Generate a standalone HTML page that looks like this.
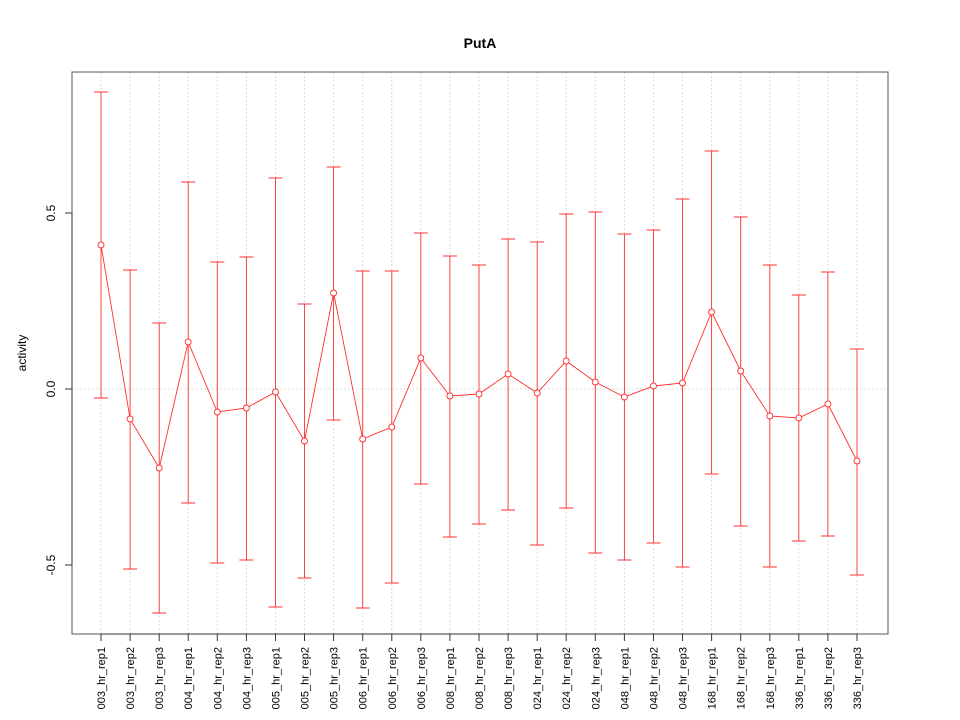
<!DOCTYPE html>
<html><head><meta charset="utf-8"><style>body{margin:0;background:#fff}svg{display:block}</style></head>
<body>
<svg width="960" height="720" xmlns="http://www.w3.org/2000/svg" font-family="Liberation Sans, sans-serif">
<rect width="960" height="720" fill="#fff"/>
<text x="480" y="48" font-size="14" font-weight="bold" text-anchor="middle">PutA</text>
<g stroke="#d3d3d3" stroke-dasharray="2,2" stroke-width="0.8">
<line x1="72" y1="389" x2="888" y2="389"/>
<path d="M101 72V634M130.1 72V634M159.2 72V634M188.2 72V634M217.3 72V634M246.4 72V634M275.5 72V634M304.5 72V634M333.6 72V634M362.7 72V634M391.8 72V634M420.8 72V634M449.9 72V634M479 72V634M508.1 72V634M537.2 72V634M566.2 72V634M595.3 72V634M624.4 72V634M653.5 72V634M682.5 72V634M711.6 72V634M740.7 72V634M769.8 72V634M798.8 72V634M827.9 72V634M857 72V634"/>
</g>
<rect x="72" y="72" width="816" height="562" fill="none" stroke="#555" stroke-width="1"/>
<g stroke="#ff3030" stroke-width="0.9" fill="none">
<path d="M101 92V398M94 92H108M94 398H108
M130.1 270V569M123.1 270H137.1M123.1 569H137.1
M159.2 323V613M152.2 323H166.2M152.2 613H166.2
M188.2 182V503M181.2 182H195.2M181.2 503H195.2
M217.3 262V563M210.3 262H224.3M210.3 563H224.3
M246.4 257V560M239.4 257H253.4M239.4 560H253.4
M275.5 178V607M268.5 178H282.5M268.5 607H282.5
M304.5 304V578M297.5 304H311.5M297.5 578H311.5
M333.6 167V420M326.6 167H340.6M326.6 420H340.6
M362.7 271V608M355.7 271H369.7M355.7 608H369.7
M391.8 271V583M384.8 271H398.8M384.8 583H398.8
M420.8 233V484M413.8 233H427.8M413.8 484H427.8
M449.9 256V537M442.9 256H456.9M442.9 537H456.9
M479 265V524M472 265H486M472 524H486
M508.1 239V510M501.1 239H515.1M501.1 510H515.1
M537.2 242V545M530.2 242H544.2M530.2 545H544.2
M566.2 214V508M559.2 214H573.2M559.2 508H573.2
M595.3 212V553M588.3 212H602.3M588.3 553H602.3
M624.4 234V560M617.4 234H631.4M617.4 560H631.4
M653.5 230V543M646.5 230H660.5M646.5 543H660.5
M682.5 199V567M675.5 199H689.5M675.5 567H689.5
M711.6 151V474M704.6 151H718.6M704.6 474H718.6
M740.7 217V526M733.7 217H747.7M733.7 526H747.7
M769.8 265V567M762.8 265H776.8M762.8 567H776.8
M798.8 295V541M791.8 295H805.8M791.8 541H805.8
M827.9 272V536M820.9 272H834.9M820.9 536H834.9
M857 349V575M850 349H864M850 575H864"/>
<polyline points="101,245 130.1,419 159.2,468 188.2,342 217.3,412 246.4,408 275.5,392 304.5,441 333.6,293 362.7,439 391.8,427 420.8,358 449.9,396 479,394 508.1,374 537.2,393 566.2,361 595.3,382 624.4,397 653.5,386 682.5,383 711.6,312 740.7,371 769.8,416 798.8,418 827.9,404 857,461"/>
<g fill="#fff">
<circle cx="101" cy="245" r="3"/><circle cx="130.1" cy="419" r="3"/><circle cx="159.2" cy="468" r="3"/><circle cx="188.2" cy="342" r="3"/><circle cx="217.3" cy="412" r="3"/><circle cx="246.4" cy="408" r="3"/><circle cx="275.5" cy="392" r="3"/><circle cx="304.5" cy="441" r="3"/><circle cx="333.6" cy="293" r="3"/><circle cx="362.7" cy="439" r="3"/><circle cx="391.8" cy="427" r="3"/><circle cx="420.8" cy="358" r="3"/><circle cx="449.9" cy="396" r="3"/><circle cx="479" cy="394" r="3"/><circle cx="508.1" cy="374" r="3"/><circle cx="537.2" cy="393" r="3"/><circle cx="566.2" cy="361" r="3"/><circle cx="595.3" cy="382" r="3"/><circle cx="624.4" cy="397" r="3"/><circle cx="653.5" cy="386" r="3"/><circle cx="682.5" cy="383" r="3"/><circle cx="711.6" cy="312" r="3"/><circle cx="740.7" cy="371" r="3"/><circle cx="769.8" cy="416" r="3"/><circle cx="798.8" cy="418" r="3"/><circle cx="827.9" cy="404" r="3"/><circle cx="857" cy="461" r="3"/>
</g>
</g>
<g stroke="#333" stroke-width="1">
<path d="M72 213V565M65 213H72M65 389H72M65 565H72"/>
<path d="M101 634H857M101 634v7M130.1 634v7M159.2 634v7M188.2 634v7M217.3 634v7M246.4 634v7M275.5 634v7M304.5 634v7M333.6 634v7M362.7 634v7M391.8 634v7M420.8 634v7M449.9 634v7M479 634v7M508.1 634v7M537.2 634v7M566.2 634v7M595.3 634v7M624.4 634v7M653.5 634v7M682.5 634v7M711.6 634v7M740.7 634v7M769.8 634v7M798.8 634v7M827.9 634v7M857 634v7"/>
</g>
<g font-size="12" text-anchor="middle">
<text transform="translate(55,213) rotate(-90)">0.5</text>
<text transform="translate(55,389) rotate(-90)">0.0</text>
<text transform="translate(55,565) rotate(-90)">-0.5</text>
<text transform="translate(26,353) rotate(-90)">activity</text>
</g>
<g font-size="11" text-anchor="end">
<text transform="translate(105,647) rotate(-90)">003_hr_rep1</text>
<text transform="translate(134.1,647) rotate(-90)">003_hr_rep2</text>
<text transform="translate(163.2,647) rotate(-90)">003_hr_rep3</text>
<text transform="translate(192.2,647) rotate(-90)">004_hr_rep1</text>
<text transform="translate(221.3,647) rotate(-90)">004_hr_rep2</text>
<text transform="translate(250.4,647) rotate(-90)">004_hr_rep3</text>
<text transform="translate(279.5,647) rotate(-90)">005_hr_rep1</text>
<text transform="translate(308.5,647) rotate(-90)">005_hr_rep2</text>
<text transform="translate(337.6,647) rotate(-90)">005_hr_rep3</text>
<text transform="translate(366.7,647) rotate(-90)">006_hr_rep1</text>
<text transform="translate(395.8,647) rotate(-90)">006_hr_rep2</text>
<text transform="translate(424.8,647) rotate(-90)">006_hr_rep3</text>
<text transform="translate(453.9,647) rotate(-90)">008_hr_rep1</text>
<text transform="translate(483,647) rotate(-90)">008_hr_rep2</text>
<text transform="translate(512.1,647) rotate(-90)">008_hr_rep3</text>
<text transform="translate(541.2,647) rotate(-90)">024_hr_rep1</text>
<text transform="translate(570.2,647) rotate(-90)">024_hr_rep2</text>
<text transform="translate(599.3,647) rotate(-90)">024_hr_rep3</text>
<text transform="translate(628.4,647) rotate(-90)">048_hr_rep1</text>
<text transform="translate(657.5,647) rotate(-90)">048_hr_rep2</text>
<text transform="translate(686.5,647) rotate(-90)">048_hr_rep3</text>
<text transform="translate(715.6,647) rotate(-90)">168_hr_rep1</text>
<text transform="translate(744.7,647) rotate(-90)">168_hr_rep2</text>
<text transform="translate(773.8,647) rotate(-90)">168_hr_rep3</text>
<text transform="translate(802.8,647) rotate(-90)">336_hr_rep1</text>
<text transform="translate(831.9,647) rotate(-90)">336_hr_rep2</text>
<text transform="translate(861,647) rotate(-90)">336_hr_rep3</text>
</g>
</svg>
</body></html>
